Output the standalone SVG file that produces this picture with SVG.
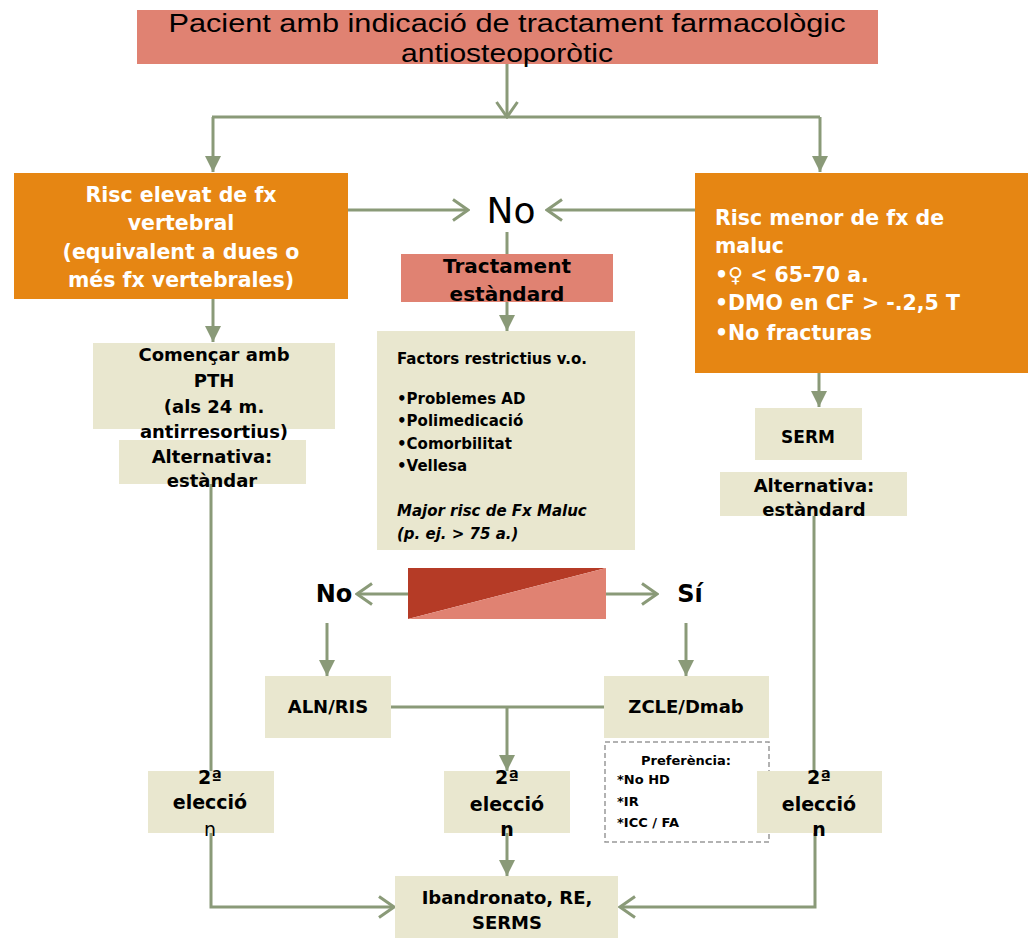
<svg xmlns="http://www.w3.org/2000/svg" width="1028" height="945" viewBox="0 0 1028 945">
<style>
text{font-family:"DejaVu Sans","Liberation Sans",Arial,sans-serif;}
.title{font-family:"Liberation Sans",Arial,sans-serif;font-size:25px;}
.c{text-anchor:middle;}
.b{font-weight:bold;}
.w{fill:#ffffff;}
.k{fill:#000000;}
.beige{fill:#E9E7CF;}
.orange{fill:#E68613;}
.salmon{fill:#E08272;}
.ln{fill:none;stroke:#8A9A78;stroke-width:3;}
.t18{font-size:18px;}
.t21{font-size:20.5px;}
.t15{font-size:15px;}
.t13{font-size:13px;}
</style>
<defs>
<marker id="open" viewBox="0 0 20 24" refX="18" refY="12" markerWidth="20" markerHeight="24" markerUnits="userSpaceOnUse" orient="auto">
<path d="M3,1.5 L18,12 L3,22.5" fill="none" stroke="#8A9A78" stroke-width="3"/>
</marker>
<marker id="fill" viewBox="0 0 16 16" refX="16" refY="8" markerWidth="16" markerHeight="16" markerUnits="userSpaceOnUse" orient="auto">
<path d="M0,0 L16,8 L0,16 z" fill="#8A9A78"/>
</marker>
</defs>
<rect width="1028" height="945" fill="#ffffff"/>

<g id="connectors">
<path class="ln" d="M507,64 V117" marker-end="url(#open)"/>
<path class="ln" d="M212,117 H820"/>
<path class="ln" d="M213,117 V172" marker-end="url(#fill)"/>
<path class="ln" d="M820,117 V172" marker-end="url(#fill)"/>
<path class="ln" d="M348,210 H468" marker-end="url(#open)"/>
<path class="ln" d="M695,210 H547" marker-end="url(#open)"/>
<path class="ln" d="M507,232 V254"/>
<path class="ln" d="M507,302 V331" marker-end="url(#fill)"/>
<path class="ln" d="M213,299 V342" marker-end="url(#fill)"/>
<path class="ln" d="M211,484 V771"/>
<path class="ln" d="M211,833 V907 H394" marker-end="url(#open)"/>
<path class="ln" d="M819,373 V407" marker-end="url(#fill)"/>
<path class="ln" d="M814,516 V771"/>
<path class="ln" d="M815,833 V907 H620" marker-end="url(#open)"/>
<path class="ln" d="M408,594 H357" marker-end="url(#open)"/>
<path class="ln" d="M606,594 H657" marker-end="url(#open)"/>
<path class="ln" d="M327,623 V676" marker-end="url(#fill)"/>
<path class="ln" d="M686,623 V676" marker-end="url(#fill)"/>
<path class="ln" d="M391,707 H604"/>
<path class="ln" d="M507,707 V771" marker-end="url(#fill)"/>
<path class="ln" d="M507,833 V876" marker-end="url(#fill)"/>
</g>

<g id="top">
<rect class="salmon" x="137" y="10" width="741" height="54"/>
<text class="c k title" x="507" y="32" textLength="677" lengthAdjust="spacingAndGlyphs">Pacient amb indicació de tractament farmacològic</text>
<text class="c k title" x="507" y="62" textLength="212" lengthAdjust="spacingAndGlyphs">antiosteoporòtic</text>
</g>

<g id="risc-vertebral">
<rect class="orange" x="14" y="173" width="334" height="126"/>
<text class="c w b t21" x="181" y="202">Risc elevat de fx</text>
<text class="c w b t21" x="181" y="230">vertebral</text>
<text class="c w b t21" x="181" y="259">(equivalent a dues o</text>
<text class="c w b t21" x="181" y="287">més fx vertebrales)</text>
</g>

<g id="risc-maluc">
<rect class="orange" x="695" y="173" width="333" height="200"/>
<text class="w b t21" x="715" y="225">Risc menor de fx de</text>
<text class="w b t21" x="715" y="253">maluc</text>
<text class="w b t21" x="715" y="282">•♀ &lt; 65-70 a.</text>
<text class="w b t21" x="715" y="310">•DMO en CF &gt; -.2,5 T</text>
<text class="w b t21" x="715" y="340">•No fracturas</text>
</g>

<g id="no-top">
<text class="c k" x="511" y="223" font-size="36">No</text>
</g>

<g id="tractament">
<rect class="salmon" x="401" y="254" width="212" height="48"/>
<text class="c k b" x="507" y="273" font-size="20">Tractament</text>
<text class="c k b" x="507" y="301" font-size="20">estàndard</text>
</g>

<g id="comencar">
<rect class="beige" x="93" y="343" width="242" height="86"/>
<text class="c k b t18" x="214" y="361">Començar amb</text>
<text class="c k b t18" x="214" y="387">PTH</text>
<text class="c k b t18" x="214" y="413">(als 24 m.</text>
<text class="c k b t18" x="214" y="438">antirresortius)</text>
</g>

<g id="alternativa-left">
<rect class="beige" x="119" y="440" width="187" height="44"/>
<text class="c k b t18" x="212" y="463">Alternativa:</text>
<text class="c k b t18" x="212" y="487">estàndar</text>
</g>

<g id="factors">
<rect class="beige" x="377" y="331" width="258" height="219"/>
<text class="k b t15" x="397" y="364">Factors restrictius v.o.</text>
<text class="k b t15" x="397" y="404">•Problemes AD</text>
<text class="k b t15" x="397" y="426">•Polimedicació</text>
<text class="k b t15" x="397" y="449">•Comorbilitat</text>
<text class="k b t15" x="397" y="471">•Vellesa</text>
<text class="k b t15" x="397" y="516" font-style="italic">Major risc de Fx Maluc</text>
<text class="k b t15" x="397" y="539" font-style="italic">(p. ej. &gt; 75 a.)</text>
</g>

<g id="serm">
<rect class="beige" x="755" y="408" width="107" height="52"/>
<text class="c k b" x="808" y="443" font-size="17">SERM</text>
</g>

<g id="alternativa-right">
<rect class="beige" x="720" y="472" width="187" height="44"/>
<text class="c k b t18" x="814" y="492">Alternativa:</text>
<text class="c k b t18" x="814" y="516">estàndard</text>
</g>

<g id="decision">
<polygon points="408,568 606,568 408,619" fill="#B53B26"/>
<polygon points="606,568 606,619 408,619" fill="#E08272"/>
</g>

<g id="no-label">
<text class="c k b" x="334" y="602" font-size="24">No</text>
</g>
<g id="si-label">
<text class="c k b" x="690" y="602" font-size="24">Sí</text>
</g>

<g id="aln-ris">
<rect class="beige" x="265" y="676" width="126" height="62"/>
<text class="c k b t18" x="328" y="713">ALN/RIS</text>
</g>

<g id="zcle">
<rect class="beige" x="604" y="676" width="165" height="62"/>
<text class="c k b t18" x="686" y="713">ZCLE/Dmab</text>
</g>

<g id="preferencia">
<rect x="605" y="742" width="164" height="100" fill="#ffffff" stroke="#999999" stroke-width="1.5" stroke-dasharray="5,3"/>
<text class="c k b t13" x="686" y="765">Preferència:</text>
<text class="k b t13" x="617" y="784">*No HD</text>
<text class="k b t13" x="617" y="806">*IR</text>
<text class="k b t13" x="617" y="827">*ICC / FA</text>
</g>

<g id="eleccio-left">
<rect class="beige" x="148" y="771" width="126" height="62"/>
<text class="c k b" x="210" y="784" font-size="19">2ª</text>
<text class="c k b" x="210" y="809" font-size="19">elecció</text>
<text class="c k" x="210" y="836" font-size="19">n</text>
</g>

<g id="eleccio-mid">
<rect class="beige" x="444" y="771" width="126" height="62"/>
<text class="c k b" x="507" y="784" font-size="19">2ª</text>
<text class="c k b" x="507" y="811" font-size="19">elecció</text>
<text class="c k b" x="507" y="836" font-size="19">n</text>
</g>

<g id="eleccio-right">
<rect class="beige" x="757" y="771" width="125" height="62"/>
<text class="c k b" x="819" y="784" font-size="19">2ª</text>
<text class="c k b" x="819" y="811" font-size="19">elecció</text>
<text class="c k b" x="819" y="836" font-size="19">n</text>
</g>

<g id="ibandronato">
<rect class="beige" x="395" y="876" width="223" height="62"/>
<text class="c k b t18" x="507" y="904">Ibandronato, RE,</text>
<text class="c k b t18" x="507" y="929">SERMS</text>
</g>
</svg>
